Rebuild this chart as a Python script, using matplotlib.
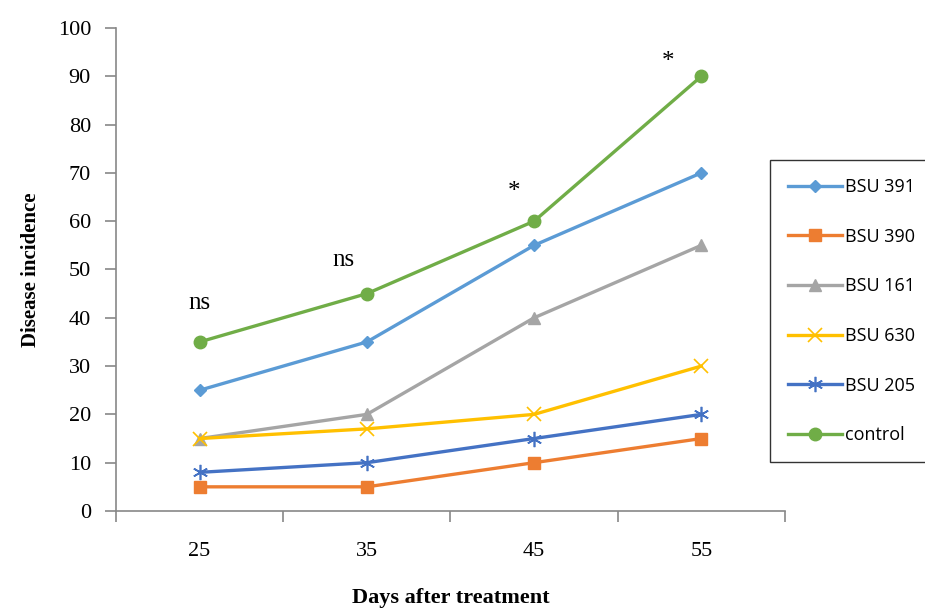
import matplotlib.pyplot as plt
import numpy as np

days = ['25', '35', '45', '55']
bsu391 = [25, 35, 55, 70]
bsu390 = [5, 5, 10, 15]
bsu161 = [15, 20, 40, 55]
bsu630 = [15, 17, 20, 30]
bsu205 = [8, 10, 15, 20]
control = [35, 45, 60, 90]

# significance marks: (x position, y position, text)
sig_x = [0.0, 0.86, 1.88, 2.80]
sig_y = [43, 52, 66, 93]
sig_txt = ['ns', 'ns', '*', '*']

fig = plt.figure(figsize=(9.25, 6.11), dpi=100)
ax = fig.add_axes([0.1254, 0.1637, 0.7232, 0.7905])

x = np.arange(len(days))
lw = 2.4
ax.plot(x, bsu391, color='#5B9BD5', lw=lw, marker='D', ms=6, label='BSU 391')
ax.plot(x, bsu390, color='#ED7D31', lw=lw, marker='s', ms=8, label='BSU 390')
ax.plot(x, bsu161, color='#A5A5A5', lw=lw, marker='^', ms=9, label='BSU 161')
ax.plot(x, bsu630, color='#FFC000', lw=lw, marker='x', ms=10, mew=1.2, label='BSU 630')
ax.plot(x, bsu205, color='#4472C4', lw=lw, marker=(6, 2, 0), ms=11, mew=1.2, label='BSU 205')
ax.plot(x, control, color='#70AD47', lw=lw, marker='o', ms=9, label='control')

serif = 'Liberation Serif'
for sx, sy, t in zip(sig_x, sig_y, sig_txt):
    ax.text(sx, sy, t, ha='center', va='center', fontsize=18, family=serif)

ax.set_xlim(-0.5, 3.5)
ax.set_ylim(0, 100)
ax.set_yticks(range(0, 101, 10))
ax.set_xticks(np.arange(-0.5, 4, 1))
ax.set_xticklabels([])
ax.set_xticks(x, minor=True)
ax.set_xticklabels(days, minor=True)
ax.tick_params(axis='x', which='minor', length=0, pad=22)
ax.tick_params(axis='x', which='major', length=8, width=1.2, color='#888888')
ax.tick_params(axis='y', length=8, width=1.2, color='#888888', pad=10)
for lab in ax.get_xticklabels(minor=True) + ax.get_yticklabels():
    lab.set_family(serif)
    lab.set_fontsize(16)

for s in ['top', 'right']:
    ax.spines[s].set_visible(False)
for s in ['left', 'bottom']:
    ax.spines[s].set_color('#888888')
    ax.spines[s].set_linewidth(1.2)

ax.set_ylabel('Disease incidence', family=serif, fontsize=15, fontweight='bold', labelpad=12)
ax.set_xlabel('Days after treatment', family=serif, fontsize=16, fontweight='bold', labelpad=20)

leg = fig.legend(loc='upper left', bbox_to_anchor=(0.832, 0.738), frameon=True,
                 fancybox=False, edgecolor='black', prop={'family': 'Open Sans', 'size': 13},
                 labelspacing=1.75, handlelength=3.0, handletextpad=0.2, borderpad=1.0,
                 borderaxespad=0)
leg.get_frame().set_linewidth(1.0)

fig.savefig('out.png', dpi=100)
